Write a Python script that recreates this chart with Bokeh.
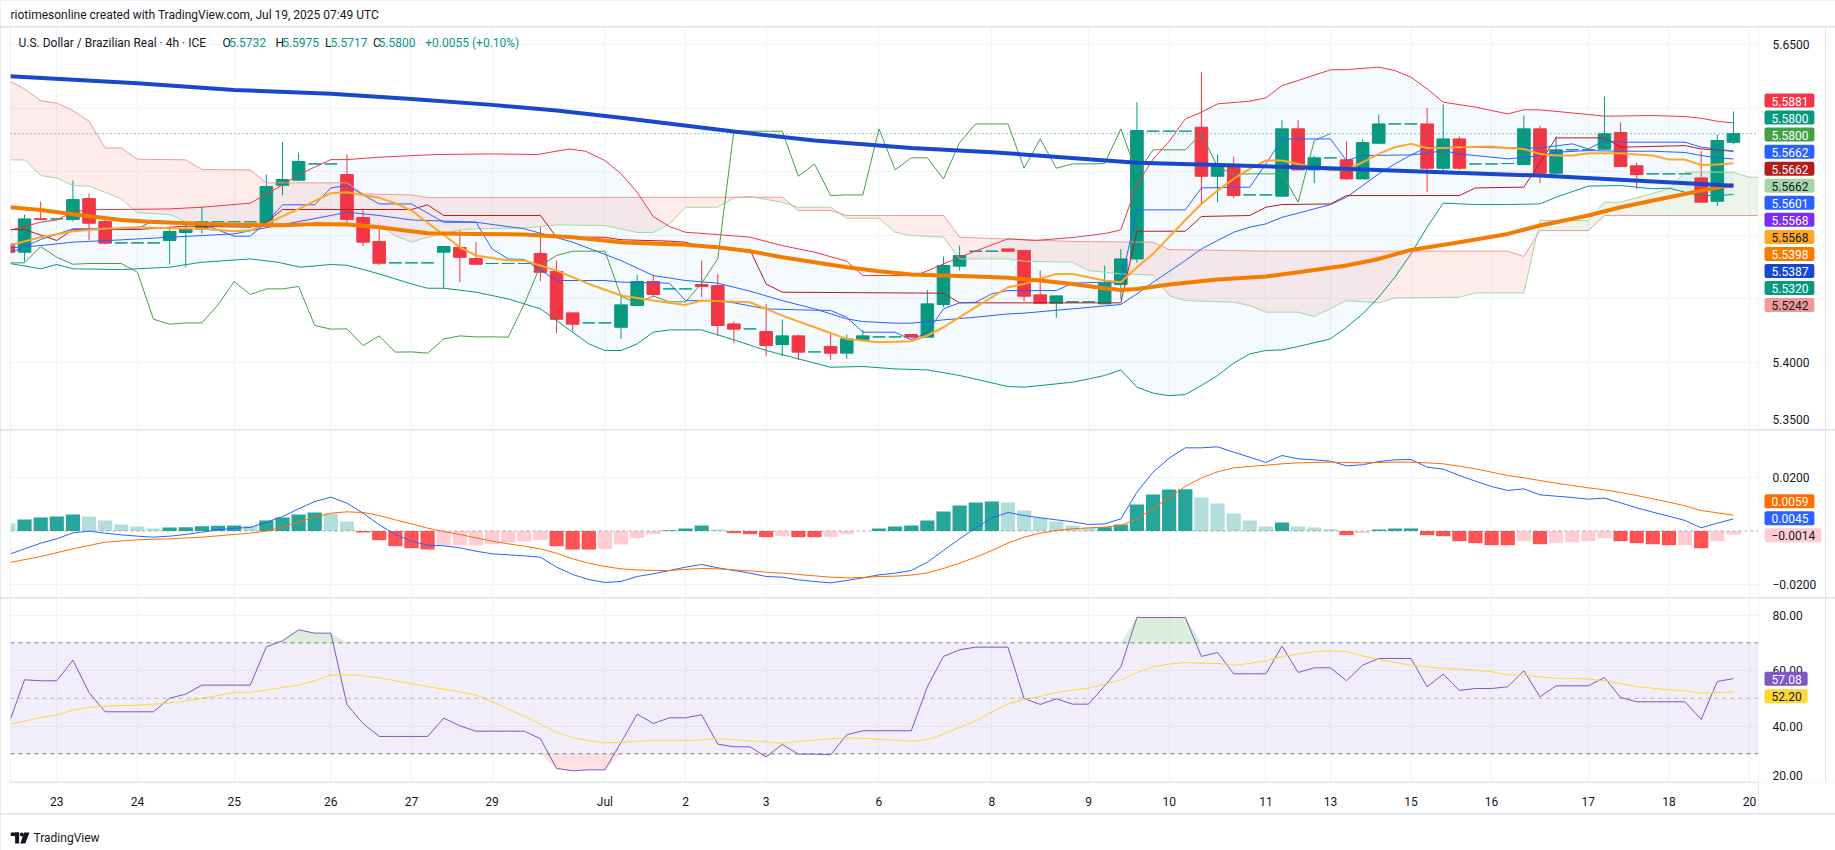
import numpy as np
from bokeh.plotting import figure
from bokeh.layouts import column, row
from bokeh.models import (Range1d, FixedTicker, Label, Span, BoxAnnotation)
from bokeh.embed import file_html
from bokeh.resources import INLINE

FONT = "Roboto"
TXT = "#131722"
GRID = "#F0F3FA"
FRAME = "#E0E3EB"
UP, DN = "#089981", "#F23645"

# ---------------- candles (4h USD/BRL) ----------------
opens = [5.4932, 5.4867, 5.5130, 5.5129, 5.5124, 5.5289, 5.5108, 5.4940, 5.4940, 5.4940,
         5.4959, 5.5022, 5.5048, 5.5106, 5.5106, 5.5106, 5.5095, 5.5394, 5.5434, 5.5562,
         5.5562, 5.5478, 5.5140, 5.4951, 5.4783, 5.4783, 5.4783, 5.4867, 5.4904, 5.4817,
         5.4778, 5.4778, 5.4778, 5.4856, 5.4715, 5.4389, 5.4310, 5.4310, 5.4276, 5.4447,
         5.4636, 5.4578, 5.4578, 5.4612, 5.4604, 5.4302, 5.4263, 5.4242, 5.4140, 5.4208,
         5.4082, 5.4124, 5.4072, 5.4181, 5.4200, 5.4200, 5.4219, 5.4198, 5.4455, 5.4757,
         5.4875, 5.4875, 5.4893, 5.4880, 5.4531, 5.4465, 5.4476, 5.4476, 5.4460, 5.4612,
         5.4814, 5.5820, 5.5820, 5.5820, 5.5851, 5.5465, 5.5557, 5.5318, 5.5318, 5.5308,
         5.5838, 5.5515, 5.5610, 5.5594, 5.5444, 5.5725, 5.5877, 5.5877, 5.5877, 5.5528,
         5.5759, 5.5562, 5.5562, 5.5565, 5.5557, 5.5838, 5.5489, 5.5673, 5.5673, 5.5678,
         5.5809, 5.5547, 5.5484, 5.5484, 5.5484, 5.5452, 5.5268, 5.5732]
highs = [5.4950, 5.5163, 5.5266, 5.5129, 5.5431, 5.5329, 5.5121, 5.4940, 5.4940, 5.4940,
         5.5051, 5.5090, 5.5226, 5.5106, 5.5106, 5.5106, 5.5478, 5.5733, 5.5652, 5.5562,
         5.5562, 5.5636, 5.5195, 5.5064, 5.4783, 5.4783, 5.4783, 5.4913, 5.5037, 5.4946,
         5.4778, 5.4778, 5.4778, 5.5064, 5.4801, 5.4390, 5.4310, 5.4310, 5.4539, 5.4688,
         5.4688, 5.4578, 5.4578, 5.4801, 5.4696, 5.4321, 5.4263, 5.4460, 5.4337, 5.4219,
         5.4082, 5.4237, 5.4219, 5.4255, 5.4200, 5.4200, 5.4219, 5.4570, 5.4833, 5.4919,
         5.4875, 5.4875, 5.4893, 5.4880, 5.4722, 5.4523, 5.4476, 5.4476, 5.4762, 5.4893,
         5.6048, 5.5820, 5.5820, 5.5820, 5.6284, 5.5636, 5.5620, 5.5318, 5.5318, 5.5909,
         5.5909, 5.5625, 5.5610, 5.5738, 5.5754, 5.5951, 5.5877, 5.5877, 5.6003, 5.6030,
         5.5778, 5.5562, 5.5562, 5.5565, 5.5943, 5.5864, 5.5778, 5.5673, 5.5673, 5.6093,
         5.5888, 5.5573, 5.5484, 5.5484, 5.5484, 5.5662, 5.5793, 5.5975]
lows = [5.4850, 5.4793, 5.5120, 5.5129, 5.5108, 5.4964, 5.4927, 5.4940, 5.4940, 5.4940,
        5.4770, 5.4749, 5.5011, 5.5106, 5.5106, 5.5106, 5.5064, 5.5316, 5.5426, 5.5562,
        5.5562, 5.5100, 5.4914, 5.4764, 5.4783, 5.4783, 5.4783, 5.4578, 5.4630, 5.4770,
        5.4778, 5.4778, 5.4778, 5.4638, 5.4229, 5.4245, 5.4310, 5.4310, 5.4184, 5.4445,
        5.4513, 5.4578, 5.4578, 5.4513, 5.4210, 5.4150, 5.4263, 5.4048, 5.4048, 5.4019,
        5.4082, 5.4019, 5.4027, 5.4166, 5.4200, 5.4200, 5.4198, 5.4198, 5.4434, 5.4722,
        5.4875, 5.4875, 5.4875, 5.4481, 5.4465, 5.4350, 5.4476, 5.4476, 5.4460, 5.4499,
        5.4783, 5.5820, 5.5820, 5.5820, 5.5247, 5.5261, 5.5292, 5.5318, 5.5318, 5.5308,
        5.5515, 5.5410, 5.5610, 5.5436, 5.5444, 5.5720, 5.5877, 5.5877, 5.5339, 5.5484,
        5.5515, 5.5562, 5.5562, 5.5565, 5.5557, 5.5410, 5.5478, 5.5673, 5.5673, 5.5678,
        5.5541, 5.5363, 5.5484, 5.5484, 5.5484, 5.5261, 5.5230, 5.5717]
closes = [5.4867, 5.5129, 5.5125, 5.5129, 5.5281, 5.5095, 5.4938, 5.4940, 5.4940, 5.4940,
          5.5030, 5.5053, 5.5108, 5.5106, 5.5106, 5.5106, 5.5384, 5.5439, 5.5581, 5.5562,
          5.5562, 5.5124, 5.4946, 5.4780, 5.4783, 5.4783, 5.4783, 5.4911, 5.4827, 5.4772,
          5.4778, 5.4778, 5.4778, 5.4709, 5.4339, 5.4300, 5.4310, 5.4310, 5.4452, 5.4636,
          5.4534, 5.4578, 5.4578, 5.4597, 5.4290, 5.4261, 5.4263, 5.4132, 5.4208, 5.4080,
          5.4082, 5.4072, 5.4184, 5.4208, 5.4200, 5.4200, 5.4198, 5.4460, 5.4762, 5.4841,
          5.4875, 5.4875, 5.4875, 5.4520, 5.4465, 5.4523, 5.4476, 5.4476, 5.4623, 5.4814,
          5.5825, 5.5820, 5.5820, 5.5820, 5.5465, 5.5562, 5.5313, 5.5318, 5.5318, 5.5838,
          5.5515, 5.5610, 5.5610, 5.5444, 5.5730, 5.5877, 5.5877, 5.5877, 5.5528, 5.5759,
          5.5528, 5.5562, 5.5562, 5.5565, 5.5838, 5.5489, 5.5673, 5.5673, 5.5673, 5.5799,
          5.5541, 5.5478, 5.5484, 5.5484, 5.5484, 5.5261, 5.5746, 5.5800]

# ---------------- time axis ----------------
day_idx = [3, 8, 14, 20, 25, 30, 37, 42, 47, 54, 61, 67, 72, 78, 82, 87, 92, 98, 103, 108]
day_lbl = ["23", "24", "25", "26", "27", "29", "Jul", "2", "3", "6", "8", "9", "10", "11",
           "13", "15", "16", "17", "18", "20"]

# ---------------- moving averages ----------------
ema200_x = [0, 8, 14, 20, 25, 30, 34, 38, 45, 50, 56, 61, 70, 81, 95, 107]
ema200_y = [5.6253, 5.6198, 5.6145, 5.6114, 5.6074, 5.6027, 5.5982, 5.5925, 5.5817, 5.5746,
            5.5688, 5.5654, 5.5572, 5.5531, 5.5470, 5.5390]
ema50_x = [0, 2, 4, 7, 9, 12, 14, 17, 19, 21, 23, 26, 29, 32, 35, 38, 39, 42, 44, 46, 48, 50,
           52, 54, 56, 58, 60, 62, 64, 66, 68, 69, 70, 72, 75, 78, 80, 83, 85, 87, 90, 93, 95,
           98, 100, 103, 105, 107]
ema50_y = [5.5221, 5.5200, 5.5165, 5.5121, 5.5105, 5.5090, 5.5082, 5.5080, 5.5088, 5.5085,
           5.5064, 5.5016, 5.5011, 5.5006, 5.4985, 5.4946, 5.4940, 5.4925, 5.4906, 5.4875,
           5.4827, 5.4788, 5.4749, 5.4717, 5.4691, 5.4683, 5.4675, 5.4665, 5.4644, 5.4617,
           5.4583, 5.4570, 5.4578, 5.4612, 5.4652, 5.4675, 5.4709, 5.4762, 5.4814, 5.4885,
           5.4946, 5.5011, 5.5077, 5.5156, 5.5221, 5.5300, 5.5352, 5.5397]
ema20_x = [0, 2, 4, 6, 8, 10, 12, 14, 15, 16, 18, 20, 21, 23, 24, 25, 26.5, 28, 29, 31, 32, 34,
           36, 38, 40, 42, 43, 46, 48, 50, 52, 54, 56, 57, 58, 60, 62, 63, 65, 66, 68, 69, 70,
           71, 73, 74, 75, 76, 77, 78, 79, 80, 81, 82, 83, 84, 85, 86, 87, 88, 89, 90, 92, 93,
           94, 95, 96, 97, 98, 99, 100, 101, 102, 103, 104, 105, 106, 107]
ema20_y = [5.4919, 5.4985, 5.5032, 5.5051, 5.5064, 5.5056, 5.5051, 5.5032, 5.5037, 5.5090,
           5.5208, 5.5332, 5.5339, 5.5295, 5.5253, 5.5195, 5.5051, 5.4906, 5.4841, 5.4801,
           5.4801, 5.4722, 5.4617, 5.4526, 5.4486, 5.4452, 5.4486, 5.4473, 5.4368, 5.4276,
           5.4184, 5.4158, 5.4166, 5.4211, 5.4276, 5.4434, 5.4591, 5.4617, 5.4696, 5.4696,
           5.4644, 5.4631, 5.4749, 5.4854, 5.5120, 5.5247, 5.5352, 5.5444, 5.5523, 5.5589,
           5.5589, 5.5562, 5.5531, 5.5515, 5.5515, 5.5575, 5.5641, 5.5694, 5.5720, 5.5688,
           5.5688, 5.5694, 5.5699, 5.5688, 5.5680, 5.5641, 5.5628, 5.5628, 5.5646, 5.5646,
           5.5646, 5.5636, 5.5628, 5.5596, 5.5596, 5.5554, 5.5557, 5.5568]

# ---------------- Bollinger bands ----------------
bbu_x = [0, 2, 3, 4, 5, 7, 10, 12, 15, 16.4, 18.1, 20, 21, 23, 26.5, 30, 32.8, 34.8, 35.8, 37,
         38, 39, 40, 41, 42, 44, 46, 48, 50, 52, 53, 56.3, 58, 59.8, 62, 63.7, 66.2, 68.1, 69,
         70, 71, 72, 73, 74, 75, 77, 78, 79, 80, 82, 83, 85, 86, 87, 88, 89, 91, 93, 94, 95,
         98, 99, 102, 104, 105, 106, 107]
bbu_y = [5.5037, 5.5103, 5.5121, 5.5182, 5.5203, 5.5203, 5.5208, 5.5221, 5.5253, 5.5352,
         5.5484, 5.5596, 5.5596, 5.5615, 5.5636, 5.5641, 5.5636, 5.5680, 5.5662, 5.5589,
         5.5484, 5.5339, 5.5148, 5.5069, 5.5024, 5.5006, 5.4985, 5.4919, 5.4867, 5.4796,
         5.4683, 5.4683, 5.4775, 5.4867, 5.4972, 5.4959, 5.4985, 5.5016, 5.5043, 5.5400,
         5.5600, 5.5740, 5.5917, 5.5969, 5.6035, 5.6056, 5.6082, 5.6179, 5.6219, 5.6303,
         5.6305, 5.6324, 5.6297, 5.6245, 5.6153, 5.6048, 5.6009, 5.5956, 5.5988, 5.5988,
         5.5951, 5.5938, 5.5943, 5.5935, 5.5922, 5.5898, 5.5885]
bbl_x = [0, 2, 3, 4, 7, 10, 12, 15, 16.7, 18.1, 20, 21, 23, 25, 26, 27, 29, 31, 33, 35, 36,
         37, 38, 39, 40, 41, 43, 45, 47, 49, 51, 53, 55, 57, 59, 62, 63, 66, 67, 68, 69, 70,
         71, 72, 73, 74, 75, 76, 77, 78, 79, 80, 82, 83, 84, 85, 86, 87, 88, 89, 91, 93, 95,
         96, 98, 100, 101, 102, 103, 104, 105, 106, 107]
bbl_y = [5.4780, 5.4736, 5.4770, 5.4736, 5.4730, 5.4749, 5.4788, 5.4814, 5.4788, 5.4749,
         5.4770, 5.4764, 5.4696, 5.4617, 5.4583, 5.4583, 5.4552, 5.4499, 5.4421, 5.4237,
         5.4145, 5.4093, 5.4093, 5.4145, 5.4237, 5.4255, 5.4255, 5.4177, 5.4093, 5.4027,
         5.3961, 5.3967, 5.3948, 5.3940, 5.3896, 5.3809, 5.3804, 5.3843, 5.3869, 5.3896,
         5.3940, 5.3804, 5.3757, 5.3738, 5.3746, 5.3817, 5.3896, 5.3993, 5.4066, 5.4093,
         5.4098, 5.4124, 5.4184, 5.4276, 5.4381, 5.4513, 5.4670, 5.4854, 5.5064, 5.5253,
         5.5242, 5.5242, 5.5247, 5.5300, 5.5387, 5.5392, 5.5379, 5.5366, 5.5371, 5.5339,
         5.5313, 5.5313, 5.5321]
bbm_x = [0, 2, 4, 7, 10, 14, 16.7, 20, 21, 23, 25, 29, 32, 35, 38, 40, 42, 44, 46, 48, 50, 52,
         53, 55, 56, 58, 60, 62, 63, 66, 69, 70, 71, 73, 74, 75, 76, 77, 78, 79, 80, 82, 83,
         84, 85, 86, 87, 88, 89, 90, 91, 93, 94, 95, 96, 98, 100, 102, 104, 105, 106, 107]
bbm_y = [5.4900, 5.4919, 5.4946, 5.4964, 5.4985, 5.5011, 5.5077, 5.5156, 5.5182, 5.5156,
         5.5121, 5.5103, 5.5051, 5.4946, 5.4801, 5.4683, 5.4644, 5.4623, 5.4560, 5.4486,
         5.4421, 5.4342, 5.4321, 5.4308, 5.4308, 5.4334, 5.4355, 5.4381, 5.4387, 5.4421,
         5.4455, 5.4539, 5.4630, 5.4801, 5.4893, 5.4959, 5.5024, 5.5064, 5.5090, 5.5142,
         5.5174, 5.5242, 5.5300, 5.5392, 5.5484, 5.5562, 5.5633, 5.5646, 5.5667, 5.5641,
         5.5628, 5.5602, 5.5615, 5.5628, 5.5654, 5.5667, 5.5662, 5.5662, 5.5652, 5.5628,
         5.5610, 5.5601]

# ---------------- Ichimoku ----------------
tenkan_x = [0, 2, 4, 8, 9, 12, 14, 15, 16, 17, 19, 20, 21, 23, 25, 27, 29, 30, 31, 32, 34, 37,
            38, 41, 42, 44, 45, 47, 49, 51, 52, 53, 55, 56, 57, 58, 59, 60, 61, 62, 65, 66, 68,
            69, 70, 73, 74, 77, 78, 79, 82, 83, 84, 87, 88, 90, 93, 95, 97, 98, 99, 100, 104,
            105, 107]
tenkan_y = [5.4854, 5.4967, 5.5051, 5.5051, 5.5116, 5.5090, 5.4993, 5.4993, 5.5100, 5.5240,
            5.5240, 5.5373, 5.5392, 5.5247, 5.5247, 5.5103, 5.5103, 5.4893, 5.4814, 5.4809,
            5.4644, 5.4644, 5.4631, 5.4623, 5.4486, 5.4486, 5.4468, 5.4421, 5.4413, 5.4408,
            5.4355, 5.4237, 5.4237, 5.4177, 5.4237, 5.4421, 5.4468, 5.4473, 5.4539, 5.4565,
            5.4565, 5.4623, 5.4631, 5.4623, 5.5200, 5.5200, 5.5373, 5.5379, 5.5562, 5.5759,
            5.5759, 5.5589, 5.5628, 5.5633, 5.5694, 5.5694, 5.5688, 5.5688, 5.5720, 5.5680,
            5.5746, 5.5733, 5.5733, 5.5694, 5.5662]
kijun_x = [0, 1, 3, 4, 8, 11, 15, 16, 17, 25, 26, 27, 33, 34, 37, 38, 41, 42, 43, 46, 47, 48,
           58, 59, 69, 70, 73, 74, 77, 78, 79, 82, 83, 90, 91, 94, 96, 99, 100, 104, 105, 107]
kijun_y = [5.5045, 5.5045, 5.4959, 5.5045, 5.5045, 5.5072, 5.5064, 5.5100, 5.5203, 5.5203,
           5.5240, 5.5156, 5.5156, 5.4985, 5.4985, 5.4965, 5.4954, 5.4946, 5.4906, 5.4885,
           5.4617, 5.4552, 5.4544, 5.4468, 5.4468, 5.5032, 5.5032, 5.5148, 5.5156, 5.5221,
           5.5242, 5.5247, 5.5313, 5.5313, 5.5373, 5.5379, 5.5767, 5.5767, 5.5694, 5.5706,
           5.5680, 5.5662]
leadb_x = [0, 1, 2, 3, 4, 5, 6, 7, 8, 11, 12, 15, 16, 21, 22, 25, 26, 48, 49, 51, 52, 58, 59,
           66, 71, 72, 78, 93, 94, 95, 98, 99, 108.8]
leadb_y = [5.6219, 5.6153, 5.6061, 5.6040, 5.5982, 5.5898, 5.5688, 5.5688, 5.5599, 5.5594,
           5.5518, 5.5515, 5.5413, 5.5413, 5.5326, 5.5318, 5.5297, 5.5300, 5.5195, 5.5195,
           5.5156, 5.5156, 5.4985, 5.4951, 5.4946, 5.4888, 5.4875, 5.4875, 5.4833, 5.5037,
           5.5037, 5.5156, 5.5156]
leada_x = [0, 1, 2, 3, 4, 5, 6, 7, 8, 10, 11, 16, 21, 23, 24, 25, 26, 27, 28, 29, 32, 34, 37,
           38, 39, 40, 41, 42, 44, 45, 46, 48, 49, 51, 52, 54, 55, 56, 58, 59, 62, 63, 66, 67,
           69, 71, 72, 73, 76, 77, 78, 80, 81, 83, 85, 86, 90, 91, 94, 95, 98, 99, 100, 103,
           104, 107, 108, 108.8]
leada_y = [5.5594, 5.5594, 5.5470, 5.5452, 5.5392, 5.5387, 5.5339, 5.5287, 5.5177, 5.5163,
           5.5106, 5.5092, 5.5095, 5.5077, 5.4998, 5.4946, 5.4985, 5.5011, 5.5043, 5.5051,
           5.5058, 5.5082, 5.5077, 5.5051, 5.5022, 5.5022, 5.5090, 5.5221, 5.5221, 5.5295,
           5.5305, 5.5260, 5.5221, 5.5221, 5.5134, 5.5134, 5.5024, 5.4998, 5.4985, 5.4814,
           5.4814, 5.4796, 5.4788, 5.4722, 5.4696, 5.4688, 5.4525, 5.4486, 5.4473, 5.4447,
           5.4395, 5.4395, 5.4360, 5.4486, 5.4468, 5.4507, 5.4512, 5.4546, 5.4546, 5.5116,
           5.5116, 5.5261, 5.5261, 5.5366, 5.5497, 5.5497, 5.5457, 5.5457]
lag_shift = 25

# ---------------- MACD ----------------
macd_hist = [0.00279, 0.00428, 0.00502, 0.00539, 0.00613, 0.00539, 0.0039, 0.00242, 0.00167, 0.00093,
             0.0013, 0.00143, 0.0018, 0.00192, 0.00204, 0.00192, 0.0039, 0.00502, 0.00613, 0.00688,
             0.00651, 0.00353, -0.00056, -0.00341, -0.00564, -0.00638, -0.00688, -0.00545, -0.0054, -0.00536,
             -0.0049, -0.00428, -0.0039, -0.00341, -0.00564, -0.00688, -0.0069, -0.00675, -0.00502, -0.00266,
             -0.00118, 0.00031, 0.00093, 0.00204, 0.00056, -0.00081, -0.00118, -0.00229, -0.00192, -0.00229,
             -0.00231, -0.00217, -0.00118, -0.00005, 0.00093, 0.00167, 0.00204, 0.0039, 0.00725, 0.00948,
             0.0106, 0.01097, 0.0106, 0.00762, 0.00489, 0.00353, 0.00204, 0.00118, 0.00143, 0.00242,
             0.00985, 0.01357, 0.01543, 0.0155, 0.01245, 0.01022, 0.00651, 0.0039, 0.00167, 0.00316,
             0.00167, 0.0013, 0.00068, -0.00155, -0.00081, 0.00056, 0.00093, 0.00095, -0.00155, -0.00192,
             -0.00378, -0.00452, -0.00527, -0.0053, -0.00378, -0.0049, -0.00452, -0.00415, -0.00378, -0.00266,
             -0.00378, -0.00452, -0.0049, -0.00527, -0.00525, -0.00638, -0.00378, -0.0014]
macd_line = [-0.00874, -0.00663, -0.00452, -0.00291, -0.00068, -0.00006, -0.00081, -0.00143, -0.00192, -0.00229,
             -0.00192, -0.0013, -0.00043, 0.00043, 0.00105, 0.0013, 0.00328, 0.00539, 0.00824, 0.01097,
             0.01258, 0.01035, 0.00663, 0.00229, -0.0013, -0.00378, -0.00527, -0.00551, -0.00626, -0.0075,
             -0.00849, -0.00886, -0.00924, -0.00973, -0.01345, -0.01617, -0.01803, -0.01915, -0.01877, -0.01691,
             -0.01592, -0.01468, -0.01345, -0.01245, -0.01369, -0.01468, -0.01567, -0.01691, -0.01716, -0.01815,
             -0.01877, -0.01927, -0.0184, -0.01741, -0.0163, -0.01568, -0.01468, -0.01159, -0.00725, -0.00291,
             0.00118, 0.00489, 0.00688, 0.00576, 0.00489, 0.00415, 0.00341, 0.00242, 0.00266, 0.00452,
             0.01444, 0.02187, 0.02708, 0.03092, 0.03092, 0.03129, 0.0293, 0.02745, 0.02547, 0.02807,
             0.02683, 0.02646, 0.02596, 0.02423, 0.0246, 0.02584, 0.02646, 0.02658, 0.02373, 0.02299,
             0.02063, 0.01853, 0.01654, 0.01506, 0.01568, 0.01345, 0.01295, 0.01245, 0.01183, 0.01221,
             0.01047, 0.0086, 0.007, 0.00551, 0.0039, 0.00118, 0.00291, 0.0045]
signal_x = [0, 2, 4, 6, 8, 10, 12] + list(range(14, 108))
signal_y = [-0.01183, -0.00948, -0.00663, -0.00415, -0.00328, -0.00291, -0.00229,
            -0.0013, -0.00081, -0.00006, 0.00143, 0.00328, 0.00514, 0.00663, 0.00713, 0.00688, 0.00576,
            0.00415, 0.00266, 0.00105, -0.00019, -0.0013, -0.00254, -0.00378, -0.00477, -0.00564, -0.00663,
            -0.00824, -0.01035, -0.01196, -0.0132, -0.01406, -0.01444, -0.01468, -0.01468, -0.01431, -0.01394,
            -0.01406, -0.01444, -0.01481, -0.0153, -0.01568, -0.01617, -0.01667, -0.01716, -0.01741, -0.01729,
            -0.01691, -0.01679, -0.01642, -0.01555, -0.01394, -0.01196, -0.00973, -0.00725, -0.00452, -0.00229,
            -0.00081, 0.00019, 0.00081, 0.00118, 0.00143, 0.00204, 0.00452, 0.00824, 0.01258, 0.01654,
            0.01977, 0.022, 0.02348, 0.02398, 0.02447, 0.02497, 0.02534, 0.02546, 0.02559, 0.02546,
            0.02534, 0.02546, 0.02559, 0.02559, 0.02534, 0.02497, 0.0241, 0.02311, 0.02187, 0.02063,
            0.01977, 0.01877, 0.01778, 0.01691, 0.01605, 0.0153, 0.01431, 0.0132, 0.01196, 0.01072,
            0.00936, 0.00762, 0.00675, 0.0059]

# ---------------- RSI ----------------
rsi = [40.45, 56.67, 56.31, 56.31, 63.75, 52.1, 45.14, 45.14, 45.14, 45.14,
       50.06, 51.5, 54.74, 54.74, 54.74, 54.74, 68.56, 70.72, 74.68, 73.48,
       73.48, 47.66, 40.93, 36.25, 36.25, 36.25, 36.25, 42.85, 40.09, 38.17,
       38.17, 38.17, 38.17, 35.41, 24.71, 23.87, 24.23, 24.23, 34.08, 44.29,
       40.93, 42.97, 42.97, 44.05, 33.48, 32.52, 32.52, 28.92, 33.36, 29.88,
       29.88, 29.64, 36.85, 38.29, 38.29, 38.29, 38.29, 54.14, 65.08, 67.48,
       68.44, 68.44, 68.44, 49.94, 47.78, 49.82, 47.9, 47.9, 54.5, 61.35,
       79.13, 79.13, 79.13, 79.13, 65.08, 66.52, 58.83, 58.83, 58.83, 68.8,
       59.31, 60.99, 60.99, 56.31, 61.95, 64.35, 64.35, 64.35, 54.14, 58.71,
       52.82, 53.54, 53.54, 54.14, 59.91, 50.54, 54.5, 54.5, 54.5, 57.51,
       50.3, 48.74, 48.74, 48.74, 48.74, 42.37, 56.07, 57.08]
rsima_x = [0, 2, 3, 4, 5, 6, 8, 9, 10, 12] + list(range(14, 41)) + list(range(42, 108))
rsima_y = [40.45, 43.09, 44.05, 45.74, 46.7, 47.18, 47.54, 47.9, 48.26, 49.94,
           52.1, 52.1, 52.94, 53.9, 54.74, 56.31, 58.35, 58.47, 58.11, 57.39,
           56.31, 55.35, 54.14, 53.3, 52.34, 51.14, 48.74, 46.1, 43.45, 40.69,
           37.69, 35.89, 34.68, 33.96, 34.08, 34.56,
           34.8, 34.8, 35.05, 35.41, 35.05, 34.68, 34.32, 33.84, 34.44, 34.92,
           35.41, 35.77, 35.53, 35.29, 34.92, 34.56, 35.17, 37.09, 39.49, 41.89,
           45.14, 47.9, 49.58, 50.66, 52.1, 52.94, 53.66, 55.1, 56.55, 59.31,
           61.35, 62.31, 62.91, 62.67, 62.55, 61.95, 62.55, 63.51, 65.08, 65.92,
           66.76, 67.12, 66.76, 65.32, 64.11, 62.91, 61.95, 61.35, 60.75, 60.51,
           60.15, 59.55, 58.47, 58.35, 57.75, 57.27, 57.15, 56.91, 56.31, 55.35,
           54.14, 53.66, 53.06, 52.7, 51.86, 52.1, 52.2]

# ---------------- scales ----------------
price_ticks = [5.35, 5.40, 5.45, 5.50, 5.55, 5.60, 5.65]
price_tick_show = [5.35, 5.40, 5.65]          # the others sit under the value tags
price_tick_lbl = ["5.3500", "5.4000", "5.6500"]
macd_ticks = [-0.02, 0.02]
macd_tick_lbl = ["\u22120.0200", "0.0200"]
rsi_ticks = [20, 40, 60, 80]
rsi_tick_lbl = ["20.00", "40.00", "60.00", "80.00"]

price_tags = [("5.5881", "#F23645", "white"), ("5.5800", "#089981", "white"),
              ("5.5800", "#43A047", "white"), ("5.5662", "#2962FF", "white"),
              ("5.5662", "#B71C1C", "white"), ("5.5662", "#A5D6A7", TXT),
              ("5.5601", "#2962FF", "white"), ("5.5568", "#7B2CF5", "white"),
              ("5.5568", "#FFA726", TXT), ("5.5398", "#F57C00", "white"),
              ("5.5387", "#1848CC", "white"), ("5.5320", "#089981", "white"),
              ("5.5242", "#EF9A9A", TXT)]
macd_tags = [("0.0059", "#FF6D00", "white"), ("0.0045", "#2962FF", "white"),
             ("\u22120.0014", "#FFCDD2", TXT)]
rsi_tags = [("57.08", "#7E57C2", "white"), ("52.20", "#FDD835", TXT)]
last_close = 5.5800

# =====================================================================
bars = np.arange(len(closes))
MAINW, SIDEW = 1758, 77
LB = 10
xr = Range1d(0.128, 108.555)


def pane(h, yr, ygrid, bottom=0):
    f = figure(width=MAINW, height=h, x_range=xr, y_range=yr, y_axis_location=None,
               toolbar_location=None, output_backend="svg",
               min_border_left=LB, min_border_right=0, min_border_top=0,
               min_border_bottom=bottom)
    f.outline_line_color = None
    f.border_fill_color = "white"
    f.background_fill_color = "white"
    f.xgrid.ticker = FixedTicker(ticks=day_idx)
    f.xaxis.ticker = FixedTicker(ticks=day_idx)
    f.ygrid.ticker = FixedTicker(ticks=ygrid)
    f.xgrid.grid_line_color = GRID
    f.ygrid.grid_line_color = GRID
    f.add_layout(Span(location=xr.start, dimension="height", line_color=FRAME, line_width=1))
    return f


def side(h, yr, ticks, labels, bottom=0, nudge=None):
    s = figure(width=SIDEW, height=h, x_range=Range1d(0, SIDEW), y_range=yr,
               x_axis_location=None, y_axis_location=None,
               toolbar_location=None, output_backend="svg",
               min_border_left=0, min_border_right=0, min_border_top=0,
               min_border_bottom=bottom)
    s.grid.visible = False
    s.outline_line_color = None
    s.border_fill_color = "white"
    s.background_fill_color = "white"
    nudge = nudge or {}
    for v, t_ in zip(ticks, labels):
        s.add_layout(Label(x=14, y=v, x_units="screen", y_units="data", text=t_,
                           y_offset=nudge.get(v, 0),
                           text_font=FONT, text_font_size="12px", text_color=TXT,
                           text_align="left", text_baseline="middle"))
    s.add_layout(Span(location=67, dimension="height", line_color=FRAME, line_width=1))
    return s


def tag(s, text, ys, bg, fg):
    s.add_layout(Label(x=6, y=ys, x_units="screen", y_units="screen", text=text,
                       text_font=FONT, text_font_size="12px", text_color=fg,
                       text_align="left", text_baseline="middle",
                       background_fill_color=bg, background_fill_alpha=1.0,
                       border_radius=2,
                       padding=dict(left=7, right=6, top=3, bottom=2)))


# ---------------- header ----------------
hdr = figure(width=MAINW + SIDEW, height=26, x_range=Range1d(0, 1835), y_range=Range1d(0, 26),
             toolbar_location=None, output_backend="svg", min_border=0)
hdr.axis.visible = False
hdr.grid.visible = False
hdr.outline_line_color = None
hdr.add_layout(Label(x=10, y=12, x_units="screen", y_units="screen",
                     text="riotimesonline created with TradingView.com, Jul 19, 2025 07:49 UTC",
                     text_font=FONT, text_font_size="12px", text_color=TXT,
                     text_baseline="middle"))

# ---------------- price pane ----------------
pyr = Range1d(5.34709, 5.66362)
p = pane(402, pyr, price_ticks)
p.xaxis.visible = False

p.patch(bbu_x + bbl_x[::-1], bbu_y + bbl_y[::-1], fill_color="#2196F3", fill_alpha=0.05,
        line_color=None)
ia94, ia95 = leada_x.index(94), leada_x.index(95)
ib94, ib95 = leadb_x.index(94), leadb_x.index(95)
d0 = leada_y[ia94] - leadb_y[ib94]
d1 = leada_y[ia95] - leadb_y[ib95]
t = -d0 / (d1 - d0)
xc = 94 + t
yc = leada_y[ia94] + t * (leada_y[ia95] - leada_y[ia94])
pk_x = [x for x in leada_x if x <= 94] + [xc] + [x for x in leadb_x if x <= 94][::-1]
pk_y = [y for x, y in zip(leada_x, leada_y) if x <= 94] + [yc] + \
       [y for x, y in zip(leadb_x, leadb_y) if x <= 94][::-1]
gr_x = [xc] + [x for x in leada_x if x >= 95] + [x for x in leadb_x if x >= 95][::-1]
gr_y = [yc] + [y for x, y in zip(leada_x, leada_y) if x >= 95] + \
       [y for x, y in zip(leadb_x, leadb_y) if x >= 95][::-1]
p.patch(pk_x, pk_y, fill_color="#F44336", fill_alpha=0.1, line_color=None)
p.patch(gr_x, gr_y, fill_color="#43A047", fill_alpha=0.1, line_color=None)

o = np.array(opens); c = np.array(closes)
col = np.where(c >= o, UP, DN)
p.segment(x0=bars, y0=lows, x1=bars, y1=highs, color=col, line_width=1)
p.vbar(x=bars, width=0.78, top=np.maximum(o, c), bottom=np.minimum(o, c),
       fill_color=col, line_color=col, line_width=1)

p.line(leada_x, leada_y, line_color="#A5D6A7", line_width=1)
p.line(leadb_x, leadb_y, line_color="#EF9A9A", line_width=1)
p.line(bbu_x, bbu_y, line_color="#F23645", line_width=1)
p.line(bbl_x, bbl_y, line_color="#089981", line_width=1)
p.line(bbm_x, bbm_y, line_color="#2962FF", line_width=1)
p.line(bars - lag_shift, closes, line_color="#43A047", line_width=1)
p.line(kijun_x, kijun_y, line_color="#B71C1C", line_width=1)
p.line(tenkan_x, tenkan_y, line_color="#2962FF", line_width=1)
p.line(ema20_x, ema20_y, line_color="#FFA726", line_width=2)
p.line(ema50_x, ema50_y, line_color="#F57C00", line_width=4)
p.line(ema200_x, ema200_y, line_color="#1848CC", line_width=4)
p.add_layout(Span(location=last_close, dimension="width", line_color="#089981",
                  line_dash="1 3", line_width=1))

lx = [8, 212, 218.5, 265, 271.7, 314.5, 320, 362.4, 368, 414.8]
lt = ["U.S. Dollar / Brazilian Real \u00b7 4h \u00b7 ICE", "O", "5.5732", "H", "5.5975", "L",
      "5.5717", "C", "5.5800", "+0.0055 (+0.10%)"]
lc = [TXT, TXT, UP, TXT, UP, TXT, UP, TXT, UP, UP]
for x_, t_, c_ in zip(lx, lt, lc):
    p.add_layout(Label(x=x_, y=387, x_units="screen", y_units="screen", text=t_,
                       text_font=FONT, text_font_size="12px", text_color=c_,
                       text_baseline="middle"))

ps = side(402, pyr, price_tick_show, price_tick_lbl, nudge={5.35: 6})
for k, (t_, bg, fg) in enumerate(price_tags):
    tag(ps, t_, 329 - k * 17.05, bg, fg)

# ---------------- MACD pane ----------------
myr = Range1d(-0.024721, 0.037361)
m = pane(167, myr, macd_ticks)
m.xaxis.visible = False
hcol = []
prev = None
for h in macd_hist:
    if h >= 0:
        hcol.append("#26A69A" if (prev is not None and h > prev) else "#B2DFDB")
    else:
        hcol.append("#FFCDD2" if (prev is not None and h > prev) else "#FF5252")
    prev = h
m.vbar(x=bars, width=0.88, top=macd_hist, bottom=0, fill_color=hcol, line_color=None)
m.add_layout(Span(location=0, dimension="width", line_color="#787B86", line_alpha=0.6,
                  line_dash="3 3", line_width=1))
m.line(bars, macd_line, line_color="#2962FF", line_width=1)
m.line(signal_x, signal_y, line_color="#FF6D00", line_width=1)

ms = side(167, myr, macd_ticks, macd_tick_lbl)
for k, (t_, bg, fg) in enumerate(macd_tags):
    tag(ms, t_, 96.3 - k * 17, bg, fg)

# ---------------- RSI pane ----------------
ryr = Range1d(19.658, 85.964)
r = pane(215, ryr, rsi_ticks, bottom=31)
r.xaxis.major_label_overrides = {i: l for i, l in zip(day_idx, day_lbl)}
r.xaxis.axis_line_color = FRAME
r.xaxis.major_tick_line_color = None
r.xaxis.minor_tick_line_color = None
r.xaxis.major_tick_out = 0
r.xaxis.major_label_standoff = 12
r.xaxis.major_label_text_font = FONT
r.xaxis.major_label_text_font_size = "12px"
r.xaxis.major_label_text_color = TXT
r.add_layout(BoxAnnotation(bottom=30, top=70, fill_color="#7E57C2", fill_alpha=0.1,
                           line_color=None, level="underlay"))
ra = np.array(rsi)
r.varea(x=bars, y1=70, y2=np.maximum(ra, 70), fill_color="#4CAF50", fill_alpha=0.2)
r.varea(x=bars, y1=30, y2=np.minimum(ra, 30), fill_color="#F23645", fill_alpha=0.15)
for lvl, alpha in ((70, 1.0), (50, 0.5), (30, 1.0)):
    r.add_layout(Span(location=lvl, dimension="width", line_color="#787B86",
                      line_alpha=alpha, line_dash="4 4", line_width=1))
r.line(bars, rsi, line_color="#7E57C2", line_width=1)
r.line(rsima_x, rsima_y, line_color="#FDD835", line_width=1)

rs = side(215, ryr, rsi_ticks, rsi_tick_lbl, bottom=31, nudge={20: 6})
for k, (t_, bg, fg) in enumerate(rsi_tags):
    tag(rs, t_, 103.7 - k * 17.4, bg, fg)

# ---------------- footer ----------------
ft = figure(width=MAINW + SIDEW, height=36, x_range=Range1d(0, 1835), y_range=Range1d(36, 0),
            toolbar_location=None, output_backend="svg", min_border=0)
ft.axis.visible = False
ft.grid.visible = False
ft.outline_line_color = None
ft.quad(left=[10.3, 14.6], right=[18.6, 18.6], top=[18, 18], bottom=[21.6, 29],
        fill_color=TXT, line_color=None)
ft.circle(x=[21.3], y=[20.0], radius=1.9, fill_color=TXT, line_color=None)
ft.patch([23.6, 29.0, 24.8, 19.8], [18, 18, 29, 29], fill_color=TXT, line_color=None)
ft.add_layout(Label(x=33, y=12.5, x_units="screen", y_units="screen", text="TradingView",
                    text_font=FONT, text_font_size="12px", text_color=TXT,
                    text_baseline="middle"))

layout = column(hdr, row(p, ps, spacing=0), row(m, ms, spacing=0), row(r, rs, spacing=0), ft,
                spacing=1, styles={"background-color": FRAME})
open("out.html", "w").write(file_html(layout, INLINE, title="USD/BRL 4h"))
